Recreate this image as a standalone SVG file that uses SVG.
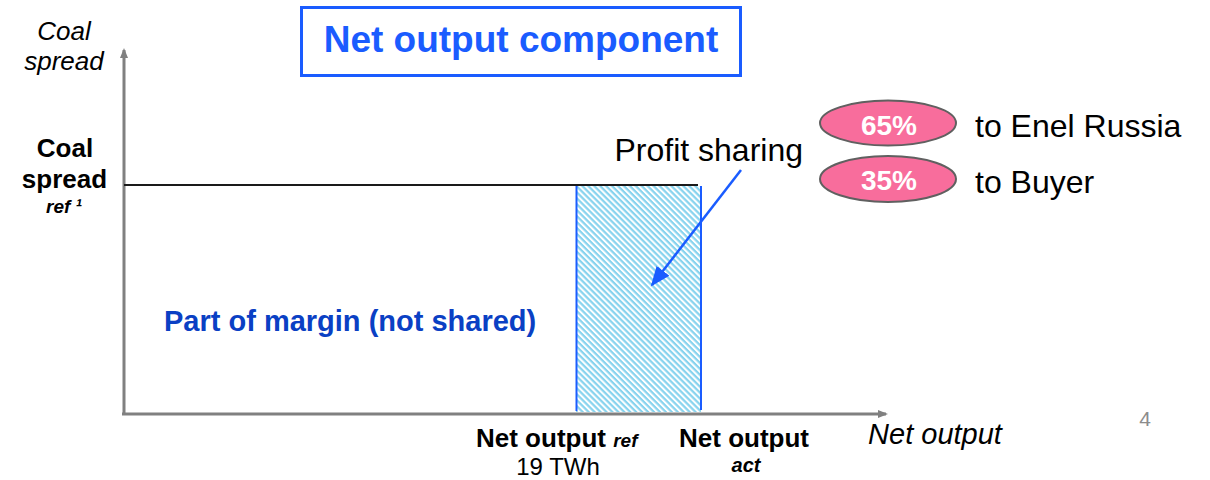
<svg xmlns="http://www.w3.org/2000/svg" width="1210" height="480" viewBox="0 0 1210 480">
<style>
text{font-family:"Liberation Sans",Arial,sans-serif}
.ax{stroke:#808080;stroke-width:3;fill:none}
.lbl{font-size:26px;fill:#000}
.b{font-weight:bold}
.i{font-style:italic}
.pct{font-size:28px;font-weight:bold;fill:#fff;text-anchor:middle}
.oval{fill:#f86d9c;stroke:#606060;stroke-width:2}
.big{font-size:32px;fill:#000}
</style>
<defs>
<marker id="ga" markerWidth="10" markerHeight="10" refX="8" refY="5" orient="auto" markerUnits="userSpaceOnUse"><path d="M0,1 L10,5 L0,9 z" fill="#808080"/></marker>
<marker id="ba" markerWidth="22" markerHeight="20" refX="18" refY="10" orient="auto" markerUnits="userSpaceOnUse"><path d="M0,2 L20,10 L0,18 z" fill="#1a5cff"/></marker>
<pattern id="hatch" width="4.2" height="4.2" patternUnits="userSpaceOnUse" patternTransform="rotate(45)">
<rect width="4.2" height="4.2" fill="#fff"/><rect width="4.2" height="2.2" fill="#87d3ee"/>
</pattern>
</defs>
<rect width="1210" height="480" fill="#fff"/>
<g id="area">
<rect x="576" y="186" width="125" height="226" fill="url(#hatch)"/>
<line x1="576.5" y1="186" x2="576.5" y2="411" stroke="#1a5cff" stroke-width="2"/>
<line x1="701" y1="186" x2="701" y2="410" stroke="#1a5cff" stroke-width="2"/>
</g>
<g id="axes">
<line class="ax" x1="124" y1="415" x2="124" y2="50" marker-end="url(#ga)"/>
<line class="ax" x1="122" y1="414" x2="886" y2="414" marker-end="url(#ga)"/>
<line x1="124" y1="185" x2="698" y2="185" stroke="#1a1a1a" stroke-width="2"/>
</g>
<g id="connectors">
<line x1="741" y1="170" x2="652" y2="285" stroke="#1a5cff" stroke-width="2.5" marker-end="url(#ba)"/>
</g>
<g id="title">
<rect x="301.5" y="7.5" width="439" height="68" fill="#fff" stroke="#1a5cff" stroke-width="3"/>
<text x="521" y="52" text-anchor="middle" font-size="37" font-weight="bold" fill="#1a5cff">Net output component</text>
</g>
<g id="ylabel">
<text class="lbl i" x="64" y="40" text-anchor="middle">Coal</text>
<text class="lbl i" x="64" y="70" text-anchor="middle">spread</text>
</g>
<g id="yref">
<text class="lbl b" x="65" y="157" text-anchor="middle">Coal</text>
<text class="lbl b" x="64.5" y="188" text-anchor="middle">spread</text>
<text x="64" y="213" text-anchor="middle" font-size="19" font-weight="bold" font-style="italic">ref ¹</text>
</g>
<g id="margin">
<text x="164" y="331" font-size="29" font-weight="bold" fill="#0a40c4">Part of margin (not shared)</text>
</g>
<g id="profit">
<text class="big" x="803" y="161" text-anchor="end">Profit sharing</text>
</g>
<g id="share65">
<ellipse class="oval" cx="888" cy="123" rx="68" ry="22.5"/>
<text class="pct" x="889" y="135">65%</text>
<text class="big" x="975" y="137">to Enel Russia</text>
</g>
<g id="share35">
<ellipse class="oval" cx="888" cy="179" rx="68" ry="23"/>
<text class="pct" x="889" y="190">35%</text>
<text class="big" x="975" y="193">to Buyer</text>
</g>
<g id="xref">
<text class="lbl b" x="476" y="447">Net output <tspan font-size="19" font-style="italic">ref</tspan></text>
<text x="558" y="475" text-anchor="middle" font-size="24">19 TWh</text>
</g>
<g id="xact">
<text class="lbl b" x="744" y="447" text-anchor="middle">Net output</text>
<text x="746" y="472" text-anchor="middle" font-size="20" font-weight="bold" font-style="italic">act</text>
</g>
<g id="xlabel">
<text x="935" y="444" text-anchor="middle" font-size="29" font-style="italic">Net output</text>
</g>
<text x="1145" y="426" text-anchor="middle" font-size="21" fill="#8c8c8c">4</text>
</svg>
